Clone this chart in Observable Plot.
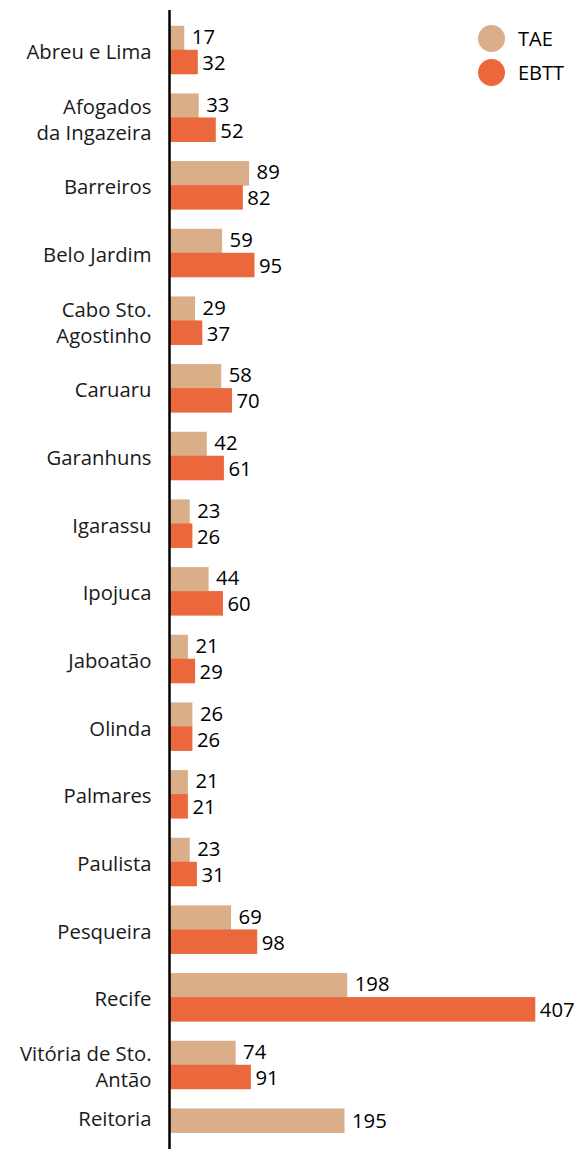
<!DOCTYPE html>
<html>
<head>
<meta charset="utf-8">
<script src="https://cdn.jsdelivr.net/npm/d3@7"></script>
<script src="https://cdn.jsdelivr.net/npm/@observablehq/plot@0.6"></script>
<style>
  body { margin: 0; background: #fff; }
  #wrap { position: relative; width: 574px; height: 1149px; font-family: "Open Sans", sans-serif; }
  #legend { position: absolute; top: 21px; left: 478px; font-size: 20px; color: #000; }
  .item { display: flex; align-items: center; height: 34px; }
  .sw { width: 27px; height: 27px; border-radius: 50%; margin-right: 13px; }
</style>
</head>
<body>
<div id="wrap"><div id="legend"></div></div>
<script>
const categories = ["Abreu e Lima", "Afogados da Ingazeira", "Barreiros", "Belo Jardim", "Cabo Sto. Agostinho", "Caruaru", "Garanhuns", "Igarassu", "Ipojuca", "Jaboatão", "Olinda", "Palmares", "Paulista", "Pesqueira", "Recife", "Vitória de Sto. Antão", "Reitoria"];
const tickLabels = ["Abreu e Lima", "Afogados\nda Ingazeira", "Barreiros", "Belo Jardim", "Cabo Sto.\nAgostinho", "Caruaru", "Garanhuns", "Igarassu", "Ipojuca", "Jaboatão", "Olinda", "Palmares", "Paulista", "Pesqueira", "Recife", "Vitória de Sto.\nAntão", "Reitoria"];
const tae  = [17, 33, 89, 59, 29, 58, 42, 23, 44, 21, 26, 21, 23, 69, 198, 74, 195];
const ebtt = [32, 52, 82, 95, 37, 70, 61, 26, 60, 29, 26, 21, 31, 98, 407, 91, null];
const seriesNames = ["TAE", "EBTT"];
const colors = ["#D9AE88", "#EB673C"];

const rows = categories.map((c, i) => ({cat: c, tae: tae[i], ebtt: ebtt[i], single: ebtt[i] == null}));
const pairRows = rows.filter(d => !d.single);
const singleRows = rows.filter(d => d.single);
const labelOf = new Map(categories.map((c, i) => [c, tickLabels[i]]));

const font = "'Open Sans', sans-serif";
const fs = 20.3;
const axisOpts = {tickSize: 0, tickPadding: 18, tickFormat: c => labelOf.get(c), fontSize: fs, lineHeight: 1.28, fill: "#1a1a1a", label: null};
const chart = Plot.plot({
  width: 574,
  height: 1149,
  marginLeft: 169,
  marginRight: 0,
  marginTop: 10,
  marginBottom: 0,
  style: {fontFamily: font, fontSize: fs + "px", color: "#000", background: "transparent"},
  x: {domain: [0, 450], axis: null},
  y: {domain: categories, range: [16.2, 1166.5], paddingInner: 0.283, paddingOuter: 0.1415, round: false, axis: null, label: null},
  marks: [
    Plot.barX(rows, {x: "tae", y: "cat", fill: colors[0], insetBottom: 24}),
    Plot.barX(pairRows, {x: "ebtt", y: "cat", fill: colors[1], insetTop: 24}),
    Plot.text(pairRows, {x: "tae", y: "cat", text: d => String(d.tae), dy: -13, dx: 7, textAnchor: "start", fill: "#000", fontSize: fs}),
    Plot.text(pairRows, {x: "ebtt", y: "cat", text: d => String(d.ebtt), dy: 13, dx: 4, textAnchor: "start", fill: "#000", fontSize: fs}),
    Plot.text(singleRows, {x: "tae", y: "cat", text: d => String(d.tae), dy: -12, dx: 7, textAnchor: "start", fill: "#000", fontSize: fs}),
    Plot.axisY({...axisOpts, ticks: pairRows.map(d => d.cat)}),
    Plot.axisY({...axisOpts, ticks: singleRows.map(d => d.cat), dy: -15}),
    Plot.ruleX([0], {stroke: "#000", strokeWidth: 2.5})
  ]
});
document.getElementById("wrap").prepend(chart);

const legend = document.getElementById("legend");
seriesNames.forEach((s, i) => {
  const it = document.createElement("div");
  it.className = "item";
  it.innerHTML = `<span class="sw" style="background:${colors[i]}"></span><span>${s}</span>`;
  legend.appendChild(it);
});
</script>
</body>
</html>
